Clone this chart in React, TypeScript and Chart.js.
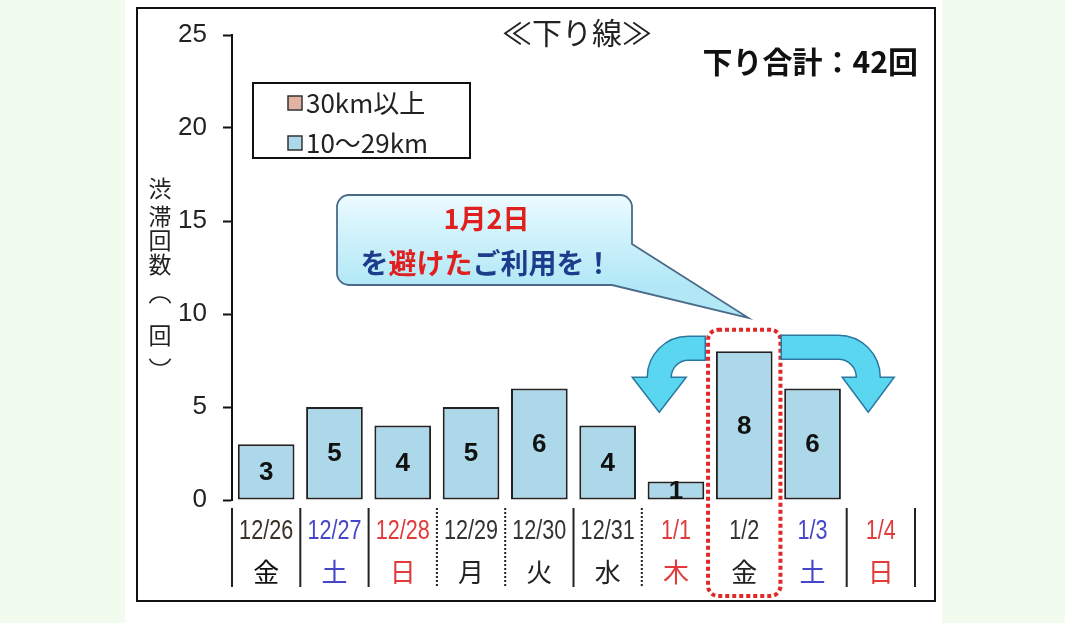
import React, { useEffect, useRef } from 'react';
import { Chart, registerables } from 'chart.js';

Chart.register(...registerables);

// ---- data ----
const dates = ['12/26', '12/27', '12/28', '12/29', '12/30', '12/31', '1/1', '1/2', '1/3', '1/4'];
const weekdays = ['金', '土', '日', '月', '火', '水', '木', '金', '土', '日'];
const dayColors = ['#3a3028', '#4646c8', '#e03a3a', '#333333', '#333333', '#333333', '#e03a3a', '#333333', '#4646c8', '#e03a3a'];
const weekdayColors = ['#111111', '#4646c8', '#e03a3a', '#222222', '#222222', '#222222', '#e03a3a', '#222222', '#4646c8', '#e03a3a'];
const over30km = [0, 0, 0, 0, 0, 0, 0, 0, 0, 0];
const km10to29: (number | null)[] = [3, 5, 4, 5, 6, 4, 1, 8, 6, null];
const yTicks = [0, 5, 10, 15, 20, 25];
const seriesLabels = ['30km以上', '10〜29km'];
const seriesColors = ['#e2b3a2', '#acd8ea'];
const titleText = '≪下り線≫';
const totalText = '下り合計：42回';
const yTitleChars = ['渋', '滞', '回', '数', '（', '回', '）'];
const calloutLine1 = '1月2日';
const calloutLine2: [string, string][] = [['を', 'blue'], ['避けた', 'red'], ['ご利用を！', 'blue']];
const highlightIndex = 7;
const dottedSeparators = [3, 4, 6];
const hiddenSeparators = [7, 8];

const CJK = '"Noto Sans CJK JP", "Noto Sans", sans-serif';
const RED = '#e0201e';
const BLUE = '#1e3c8c';

const decorPlugin = {
  id: 'decor',
  beforeDraw(chart: any) {
    const ctx = chart.ctx;
    ctx.save();
    ctx.fillStyle = '#f1fcef';
    ctx.fillRect(0, 0, chart.width, chart.height);
    ctx.fillStyle = '#ffffff';
    ctx.fillRect(125, 0, 817, chart.height);
    ctx.strokeStyle = '#111';
    ctx.lineWidth = 2;
    ctx.strokeRect(137, 8, 798, 593);
    ctx.restore();
  },
  afterDatasetsDraw(chart: any) {
    const ctx = chart.ctx;
    const xs = chart.scales.x;
    const ys = chart.scales.y;
    const area = chart.chartArea;
    const cw = (area.right - area.left) / dates.length;
    ctx.save();

    // value labels
    const meta = chart.getDatasetMeta(1);
    ctx.font = 'bold 26px "Liberation Sans", Arial, sans-serif';
    ctx.fillStyle = '#111';
    ctx.textAlign = 'center';
    ctx.textBaseline = 'middle';
    meta.data.forEach((bar: any, i: number) => {
      const v = km10to29[i];
      if (v == null) return;
      const p = bar.getProps(['x', 'y', 'base'], true);
      ctx.fillText(String(v), p.x, (p.y + p.base) / 2 + 1);
    });

    // category labels (date narrow + weekday) at the x scale's positions
    dates.forEach((d, i) => {
      const cx = xs.getPixelForValue(i);
      ctx.save();
      ctx.translate(cx, area.bottom + 32);
      ctx.scale(0.8, 1);
      ctx.font = '27px "Liberation Sans", Arial, sans-serif';
      ctx.fillStyle = dayColors[i];
      ctx.fillText(d, 0, 0);
      ctx.restore();
      ctx.font = `26px ${CJK}`;
      ctx.fillStyle = weekdayColors[i];
      ctx.fillText(weekdays[i], cx, area.bottom + 72);
    });

    // separators under the axis
    const sepTop = area.bottom + 8;
    const sepBot = area.bottom + 87;
    for (let k = 0; k <= dates.length; k++) {
      if (hiddenSeparators.includes(k)) continue;
      const sx = area.left + k * cw;
      ctx.beginPath();
      ctx.strokeStyle = '#222';
      ctx.lineWidth = 2;
      ctx.setLineDash(dottedSeparators.includes(k) ? [2, 2] : []);
      ctx.moveTo(sx, sepTop);
      ctx.lineTo(sx, sepBot);
      ctx.stroke();
    }
    ctx.setLineDash([]);

    // highlight dotted box
    const hx = xs.getPixelForValue(highlightIndex);
    const bl = hx - 0.53 * cw, br = hx + 0.53 * cw;
    const bt = ys.getPixelForValue(9.15), bb = area.bottom + 96;
    ctx.beginPath();
    ctx.roundRect(bl, bt, br - bl, bb - bt, 10);
    ctx.strokeStyle = '#e02828';
    ctx.lineWidth = 4;
    ctx.setLineDash([4, 3]);
    ctx.stroke();
    ctx.setLineDash([]);

    // arrows
    const baseY = ys.getPixelForValue(6.6);
    ctx.fillStyle = '#5ad6f0';
    ctx.strokeStyle = '#2a78a0';
    ctx.lineWidth = 1.5;
    const cxL = hx - 56;
    ctx.beginPath();
    ctx.moveTo(hx - 39, baseY - 41);
    ctx.lineTo(cxL, baseY - 41);
    ctx.arc(cxL, baseY, 41, -Math.PI / 2, Math.PI, true);
    ctx.lineTo(cxL - 41 - 15, baseY);
    ctx.lineTo(cxL - 29, baseY + 35);
    ctx.lineTo(cxL - 17 + 15, baseY);
    ctx.lineTo(cxL - 17, baseY);
    ctx.arc(cxL, baseY, 17, Math.PI, -Math.PI / 2, false);
    ctx.lineTo(hx - 39, baseY - 17);
    ctx.closePath();
    ctx.fill();
    ctx.stroke();
    const cxR = hx + 94;
    ctx.beginPath();
    ctx.moveTo(hx + 37, baseY - 42);
    ctx.lineTo(cxR, baseY - 42);
    ctx.arc(cxR, baseY, 42, -Math.PI / 2, 0, false);
    ctx.lineTo(cxR + 42 + 14, baseY);
    ctx.lineTo(cxR + 30, baseY + 35);
    ctx.lineTo(cxR + 18 - 14, baseY);
    ctx.lineTo(cxR + 18, baseY);
    ctx.arc(cxR, baseY, 18, 0, -Math.PI / 2, true);
    ctx.lineTo(hx + 37, baseY - 18);
    ctx.closePath();
    ctx.fill();
    ctx.stroke();

    // callout
    const L = 337, T = 195, R = 632, B = 285, r = 12;
    const tipX = hx + 4, tipY = bt - 12;
    const grad = ctx.createLinearGradient(0, T, 0, B);
    grad.addColorStop(0, '#eefbff');
    grad.addColorStop(0.35, '#d4f4fc');
    grad.addColorStop(1, '#b2e8f6');
    ctx.beginPath();
    ctx.moveTo(L + r, T);
    ctx.lineTo(R - r, T);
    ctx.arcTo(R, T, R, T + r, r);
    ctx.lineTo(R, 244);
    ctx.lineTo(tipX, tipY);
    ctx.lineTo(R - 20, B);
    ctx.lineTo(L + r, B);
    ctx.arcTo(L, B, L, B - r, r);
    ctx.lineTo(L, T + r);
    ctx.arcTo(L, T, L + r, T, r);
    ctx.closePath();
    ctx.fillStyle = grad;
    ctx.fill();
    ctx.strokeStyle = '#4a6a8a';
    ctx.lineWidth = 1.8;
    ctx.stroke();

    const ccx = (L + R) / 2 + 2;
    ctx.textAlign = 'center';
    ctx.textBaseline = 'middle';
    ctx.font = `bold 27px ${CJK}`;
    ctx.fillStyle = RED;
    ctx.fillText(calloutLine1, ccx, 219);
    ctx.textAlign = 'left';
    ctx.font = `bold 28px ${CJK}`;
    let total = 0;
    calloutLine2.forEach(([s]) => { total += ctx.measureText(s).width; });
    let px = ccx - total / 2;
    calloutLine2.forEach(([s, c]) => {
      ctx.fillStyle = c === 'red' ? RED : BLUE;
      ctx.fillText(s, px, 263);
      px += ctx.measureText(s).width;
    });

    // legend
    ctx.strokeStyle = '#111';
    ctx.lineWidth = 2;
    ctx.strokeRect(253, 83, 217, 75);
    ctx.font = `26px ${CJK}`;
    ctx.textBaseline = 'middle';
    ctx.textAlign = 'left';
    seriesLabels.forEach((lab, i) => {
      const ly = 103 + i * 40;
      ctx.fillStyle = seriesColors[i];
      ctx.fillRect(288, ly - 7, 14, 14);
      ctx.strokeStyle = '#333';
      ctx.lineWidth = 1.5;
      ctx.strokeRect(288, ly - 7, 14, 14);
      ctx.fillStyle = '#222';
      ctx.fillText(lab, 306, ly);
    });

    // title and total
    ctx.textAlign = 'center';
    ctx.font = `30px ${CJK}`;
    ctx.fillStyle = '#222';
    ctx.fillText(titleText, 577, 33);
    ctx.textAlign = 'right';
    ctx.font = `bold 30px ${CJK}`;
    ctx.fillStyle = '#111';
    ctx.fillText(totalText, 918, 62);

    // y-axis title (vertical; brackets drawn as vertical-form arcs)
    ctx.textAlign = 'center';
    ctx.font = `23px ${CJK}`;
    ctx.fillStyle = '#222';
    ctx.strokeStyle = '#222';
    ctx.lineWidth = 1.6;
    const yPos = [188, 216, 240, 264, 306, 335, 356];
    yTitleChars.forEach((ch, i) => {
      if (ch === '（') {
        ctx.beginPath();
        ctx.ellipse(160, yPos[i], 11, 9, 0, Math.PI * 1.1, Math.PI * 1.9);
        ctx.stroke();
      } else if (ch === '）') {
        ctx.beginPath();
        ctx.ellipse(160, yPos[i], 11, 9, 0, Math.PI * 0.1, Math.PI * 0.9);
        ctx.stroke();
      } else {
        ctx.fillText(ch, 160, yPos[i]);
      }
    });

    ctx.restore();
  },
};

export default function App() {
  const ref = useRef<HTMLCanvasElement>(null);
  useEffect(() => {
    if (!ref.current) return;
    const chart = new Chart(ref.current, {
      type: 'bar',
      data: {
        labels: dates.map((d, i) => [d, weekdays[i]]),
        datasets: [
          {
            label: seriesLabels[0],
            data: over30km,
            backgroundColor: seriesColors[0],
            borderColor: '#222',
            borderWidth: 0,
            categoryPercentage: 1,
            barPercentage: 0.83,
          },
          {
            label: seriesLabels[1],
            data: km10to29,
            backgroundColor: seriesColors[1],
            borderColor: '#222',
            borderWidth: 2,
            borderSkipped: false,
            categoryPercentage: 1,
            barPercentage: 0.83,
          },
        ],
      },
      options: {
        responsive: false,
        animation: false,
        layout: { padding: { left: 0, top: 35, right: 150, bottom: 0 } },
        plugins: {
          legend: { display: false },
          tooltip: { enabled: false },
          title: { display: false },
        },
        scales: {
          x: {
            stacked: true,
            grid: { display: false, drawTicks: false },
            border: { display: false },
            ticks: { display: false, autoSkip: false },
            afterFit: (s: any) => { s.height = 123; },
          },
          y: {
            stacked: true,
            min: 0,
            max: 25,
            afterBuildTicks: (s: any) => { s.ticks = yTicks.map((v) => ({ value: v })); },
            ticks: {
              padding: 16,
              color: '#222',
              font: { family: '"Liberation Sans", Arial, sans-serif', size: 26 },
            },
            grid: { drawOnChartArea: false, drawTicks: true, tickLength: 9, tickColor: '#111', tickWidth: 2 },
            border: { color: '#111', width: 2 },
            afterFit: (s: any) => { s.width = 232; },
          },
        },
      },
      plugins: [decorPlugin],
    } as any);
    return () => chart.destroy();
  }, []);
  return (
    <div style={{ position: 'fixed', left: 0, top: 0, width: 1065, height: 623, background: '#f1fcef' }}>
      <canvas ref={ref} width={1065} height={623} style={{ display: 'block' }} />
    </div>
  );
}
